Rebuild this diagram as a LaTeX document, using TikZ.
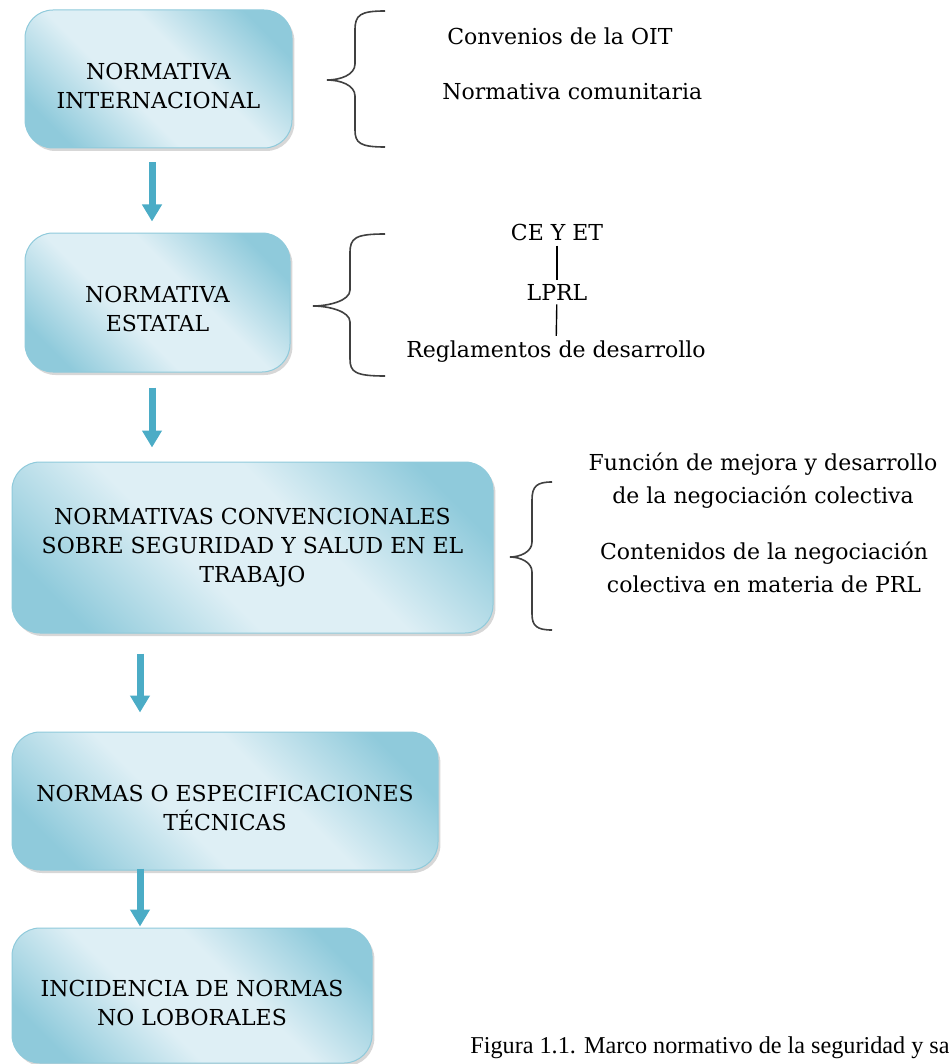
\documentclass[tikz,border=0pt]{standalone}
\usepackage{fontspec}
\setmainfont{DejaVu Serif}
\newfontfamily\piefont{Liberation Serif}
\usepackage{xcolor}
\usepackage{tikz}
\usetikzlibrary{positioning,arrows.meta,shadows}

\definecolor{azulosc}{RGB}{143,202,219}
\definecolor{azulcla}{RGB}{222,239,245}
\definecolor{azulflecha}{RGB}{75,172,198}
\pgfdeclareverticalshading{cajaazul}{100bp}{color(0bp)=(azulosc); color(23bp)=(azulosc);
    color(42bp)=(azulcla); color(58bp)=(azulcla); color(77bp)=(azulosc); color(100bp)=(azulosc)}

\begin{document}
\begin{tikzpicture}[x=0.5pt, y=-0.5pt,
    caja/.style={draw=azulosc, line width=0.5pt, rounded corners=14pt,
        shading=cajaazul, shading angle=-45, align=center, inner sep=0pt,
        font=\fontsize{11}{14.5}\selectfont,
        drop shadow={shadow xshift=1.2pt, shadow yshift=-1.5pt, opacity=.35, fill=black!45}},
    flecha/.style={draw=azulflecha, line width=3.5pt,
        -{Triangle[width=9.5pt, length=8.5pt]}},
    llave/.style={draw=black!75, line width=0.8pt},
    texto/.style={font=\fontsize{11}{16.5}\selectfont, inner sep=2pt}]
        \clip (0,0) rectangle (948,1064);

        % cajas de la izquierda
        \node (b1) [caja, minimum width=133.5pt, minimum height=69pt] at (158.5,79)
            {\rule{0pt}{15pt}NORMATIVA\\INTERNACIONAL};
        \node (b2) [caja, minimum width=132.5pt, minimum height=69.5pt] at (157.5,302.5)
            {\rule{0pt}{15pt}NORMATIVA\\ESTATAL};
        \node (b3) [caja, minimum width=240.5pt, minimum height=85.5pt] at (252.5,547.5)
            {NORMATIVAS CONVENCIONALES\\SOBRE SEGURIDAD Y SALUD EN EL\\TRABAJO};
        \node (b4) [caja, minimum width=213pt, minimum height=69pt] at (225,801)
            {\rule{0pt}{15pt}NORMAS O ESPECIFICACIONES\\TÉCNICAS};
        \node (b5) [caja, minimum width=180pt, minimum height=67.5pt] at (192,995.5)
            {\rule{0pt}{16pt}INCIDENCIA DE NORMAS\\NO LOBORALES};

        \draw[flecha, shorten <=7pt, shorten >=5.5pt] ([xshift=-3.25pt]b1.south) -- ([xshift=-3.25pt]b1.south |- b2.north);
        \draw[flecha, shorten <=7.5pt, shorten >=7pt] ([xshift=-2.75pt]b2.south) -- ([xshift=-2.75pt]b2.south |- b3.north);
        \draw[flecha, shorten <=10pt, shorten >=9.5pt] ([xshift=-56.25pt]b3.south) -- ([xshift=-56.25pt]b3.south |- b4.north);
        \draw[flecha, shorten <=-1pt, shorten >=0.5pt] ([xshift=-42.5pt]b4.south) -- ([xshift=-42.5pt]b4.south |- b5.north);

        % llaves
        \draw[llave] (385,11) .. controls (360,11) and (355,15) .. (355,30) -- (355,64)
            .. controls (355,75) and (340,80) .. (327,80) .. controls (340,80) and (355,85) .. (355,96)
            -- (355,130) .. controls (355,143) and (360,147) .. (385,147);
        \draw[llave] (385,234) .. controls (355,234) and (350,238) .. (350,253) -- (350,290)
            .. controls (350,301) and (328,306) .. (313,306) .. controls (328,306) and (350,311) .. (350,322)
            -- (350,359) .. controls (350,372) and (355,376) .. (385,376);
        \draw[llave] (552,482) .. controls (537,482) and (532,486) .. (532,500) -- (532,542)
            .. controls (532,552) and (520,557) .. (510,557) .. controls (520,557) and (532,562) .. (532,572)
            -- (532,614) .. controls (532,626) and (537,630) .. (552,630);

        % textos de la derecha
        \node (t1) [texto, anchor=base west] at (443,45) {Convenios de la OIT};
        \node (t2) [texto, anchor=base west] at (438,100) {Normativa comunitaria};

        \node (ce) [texto, anchor=base] at (557,241) {CE Y ET};
        \node (lprl) [texto, anchor=base] at (557,300) {LPRL};
        \node (regl) [texto, anchor=base] at (556,357) {Reglamentos de desarrollo};
        \draw[line width=0.7pt] (ce) -- (lprl);
        \draw[line width=0.7pt] (lprl) -- (regl);

        \node (f1) [texto, align=center, anchor=base] at (763,503)
            {Función de mejora y desarrollo\\de la negociación colectiva};
        \node (f2) [texto, align=center, anchor=base] at (764,592)
            {Contenidos de la negociación\\colectiva en materia de PRL};

        % pie de figura
        \node (pie) [anchor=base west, inner sep=0pt, font=\piefont\fontsize{12.1}{14}\selectfont]
            at (470,1053) {Figura 1.1. Marco normativo de la seguridad y sa};
\end{tikzpicture}
\end{document}
